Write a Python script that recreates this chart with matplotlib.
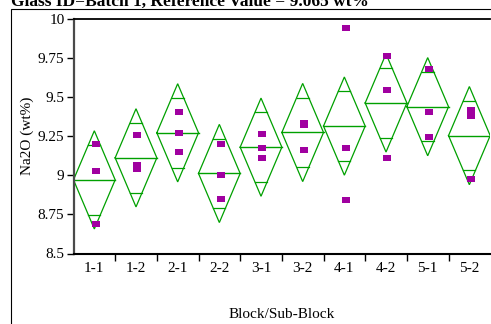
import numpy as np
import matplotlib
matplotlib.use("Agg")
import matplotlib.pyplot as plt
from matplotlib.patches import Rectangle

# Na2O measurements per block/sub-block (wt%)
groups = ["1-1", "1-2", "2-1", "2-2", "3-1", "3-2", "4-1", "4-2", "5-1", "5-2"]
obs_1_1 = [9.203, 9.026, 8.688]
obs_1_2 = [9.259, 9.065, 9.040]
obs_2_1 = [9.402, 9.269, 9.152]
obs_2_2 = [9.201, 9.001, 8.849]
obs_3_1 = [9.267, 9.176, 9.109]
obs_3_2 = [9.335, 9.325, 9.160]
obs_4_1 = [9.945, 9.176, 8.842]
obs_4_2 = [9.763, 9.545, 9.109]
obs_5_1 = [9.678, 9.402, 9.244]
obs_5_2 = [9.419, 9.378, 8.974]
observations = [obs_1_1, obs_1_2, obs_2_1, obs_2_2, obs_3_1,
                obs_3_2, obs_4_1, obs_4_2, obs_5_1, obs_5_2]

# group means and 95% confidence half-widths for the means diamonds
group_means = [8.971, 9.112, 9.272, 9.012, 9.180, 9.274, 9.315, 9.463, 9.439, 9.254]
ci_half = [0.314] * 10

y_ticks = [8.5, 8.75, 9.0, 9.25, 9.5, 9.75, 10.0]
y_tick_labels = ["8.5", "8.75", "9", "9.25", "9.5", "9.75", "10"]

title = "Glass ID=Batch 1, Reference Value = 9.065 wt%"
x_label = "Block/Sub-Block"
y_label = "Na2O (wt%)"

GREEN = "#00A000"
PURPLE = "#A000A0"
W, H = 491, 324

plt.rcParams["font.family"] = ["Liberation Serif", "DejaVu Serif"]

fig = plt.figure(figsize=(W / 100, H / 100), dpi=100)
fig.patch.set_facecolor("white")

# outer report frame
fig.add_artist(Rectangle((11 / W, -0.1), 1.2, 1.1 - 9.5 / H,
                         transform=fig.transFigure, fill=False,
                         edgecolor="black", linewidth=0.8))

AX_L, AX_R, AX_T, AX_B = 73.5, 490.2, 19.0, 253.5
ax = fig.add_axes([AX_L / W, 1 - AX_B / H, (AX_R - AX_L) / W, (AX_B - AX_T) / H])
ax.set_xlim(0, len(groups))
ax.set_ylim(8.5, 10.0)

# data markers, slightly wider than tall
rect_marker = [(-1, -0.64), (1, -0.64), (1, 0.64), (-1, 0.64), (-1, -0.64)]

for i, (obs, m, h) in enumerate(zip(observations, group_means, ci_half)):
    left, right, mid = i, i + 1, i + 0.5
    # diamond outline: vertices at the confidence limits
    ax.plot([left, mid, right, mid, left], [m, m + h, m, m - h, m],
            color=GREEN, lw=0.9, solid_joinstyle="miter", zorder=2)
    # mean line
    ax.plot([left, right], [m, m], color=GREEN, lw=1.0, zorder=2)
    # overlap marks
    d = h / np.sqrt(2)
    half_w = 0.5 * (1 - 1 / np.sqrt(2))
    for s in (1, -1):
        ax.plot([mid - half_w, mid + half_w], [m + s * d, m + s * d],
                color=GREEN, lw=0.9, zorder=2)
    ax.plot([mid + 0.035] * len(obs), obs, linestyle="none",
            marker=rect_marker, markersize=6.0, color=PURPLE,
            markeredgewidth=0, zorder=3)

# axes styling
ax.spines["right"].set_visible(False)
ax.spines["top"].set_color("black")
ax.spines["top"].set_linewidth(1.3)
ax.spines["bottom"].set_color("black")
ax.spines["bottom"].set_linewidth(1.5)
ax.spines["left"].set_color("#4a4a4a")
ax.spines["left"].set_linewidth(1.6)

ax.set_yticks(y_ticks)
ax.set_yticklabels(y_tick_labels)
ax.tick_params(axis="y", direction="out", length=5, width=1.0,
               labelsize=11, pad=1.5, colors="black")

ax.set_xticks(np.arange(1, len(groups)))
ax.set_xticklabels([])
ax.set_xticks(np.arange(len(groups)) + 0.5, minor=True)
ax.set_xticklabels(groups, minor=True)
ax.tick_params(axis="x", which="major", direction="out", length=5, width=1.0)
ax.tick_params(axis="x", which="minor", length=0, labelsize=11, pad=6)

ax.set_xlabel(x_label, fontsize=11, va="center")
ax.xaxis.set_label_coords(0.5, (AX_B - 315.0) / (AX_B - AX_T))
ax.set_ylabel(y_label, fontsize=11, va="center")
ax.yaxis.set_label_coords((27.0 - AX_L) / (AX_R - AX_L), 0.5)

fig.text(11 / W, 1 - 6.0 / H, title, fontsize=12.5, fontweight="bold",
         ha="left", va="baseline")

fig.savefig("out.png", dpi=100)
